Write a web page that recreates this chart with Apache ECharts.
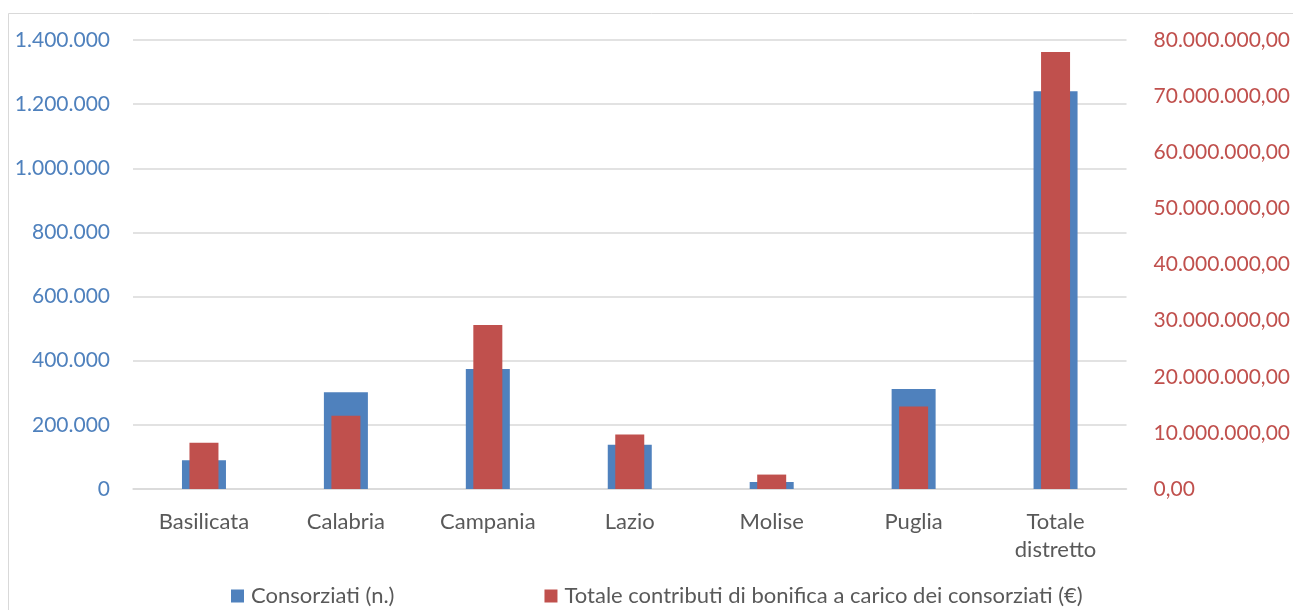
<!DOCTYPE html>
<html>
<head>
<meta charset="utf-8">
<script src="https://cdn.jsdelivr.net/npm/echarts@6/dist/echarts.min.js"></script>
<style>
  html, body { margin: 0; padding: 0; background: #fff; }
  #main { width: 1293px; height: 610px; }
</style>
</head>
<body>
<div id="main"></div>
<script>
var categories = ['Basilicata', 'Calabria', 'Campania', 'Lazio', 'Molise', 'Puglia', 'Totale\ndistretto'];
var consorziati = [90000, 302000, 374000, 138000, 22000, 312000, 1240000];
var contributi = [8260000, 13060000, 29240000, 9720000, 2570000, 14720000, 77850000];
var seriesNames = ['Consorziati (n.)', 'Totale contributi di bonifica a carico dei consorziati (€)'];

var FONT = 'Lato';

function fmtInt(v) {
    return String(Math.round(v)).replace(/\B(?=(\d{3})+(?!\d))/g, '.');
}
function fmtDec(v) {
    return fmtInt(v) + ',00';
}

var myChart = echarts.init(document.getElementById('main'));

var option = {
    animation: false,
    backgroundColor: '#fff',
    textStyle: { fontFamily: FONT },
    graphic: [{
        type: 'rect',
        shape: { x: 8.5, y: 13.5, width: 1300, height: 620 },
        style: { fill: 'none', stroke: '#d9d9d9', lineWidth: 1 },
        silent: true
    }],
    grid: { left: 133, right: 163, top: 40, bottom: 121 },
    legend: {
        left: 226,
        top: 580,
        itemWidth: 13,
        itemHeight: 13,
        itemGap: 150,
        icon: 'rect',
        textStyle: { fontFamily: FONT, fontSize: 22, color: '#595959', padding: [0, 0, 0, 2] },
        data: seriesNames
    },
    xAxis: [{
        type: 'category',
        data: categories,
        axisLine: { lineStyle: { color: '#d9d9d9', width: 1.5 } },
        axisTick: { show: false },
        axisLabel: { fontFamily: FONT, fontSize: 22, color: '#595959', margin: 19, lineHeight: 28 }
    }, {
        type: 'category',
        data: categories,
        show: false
    }],
    yAxis: [{
        type: 'value',
        min: 0,
        max: 1400000,
        interval: 200000,
        axisLine: { show: false },
        axisTick: { show: false },
        splitLine: { lineStyle: { color: '#d9d9d9', width: 1.5 } },
        axisLabel: { fontFamily: FONT, fontSize: 21, color: '#4F81BD', margin: 23, formatter: fmtInt }
    }, {
        type: 'value',
        min: 0,
        max: 80000000,
        interval: 10000000,
        axisLine: { show: false },
        axisTick: { show: false },
        splitLine: { show: false },
        axisLabel: { fontFamily: FONT, fontSize: 21, color: '#C0504D', margin: 27, formatter: fmtDec }
    }],
    series: [{
        name: seriesNames[0],
        type: 'bar',
        xAxisIndex: 0,
        yAxisIndex: 0,
        barWidth: 44,
        itemStyle: { color: '#4F81BD' },
        data: consorziati,
        z: 2
    }, {
        name: seriesNames[1],
        type: 'bar',
        xAxisIndex: 1,
        yAxisIndex: 1,
        barWidth: 29,
        itemStyle: { color: '#C0504D' },
        data: contributi,
        z: 3
    }]
};

myChart.setOption(option);
</script>
</body>
</html>
